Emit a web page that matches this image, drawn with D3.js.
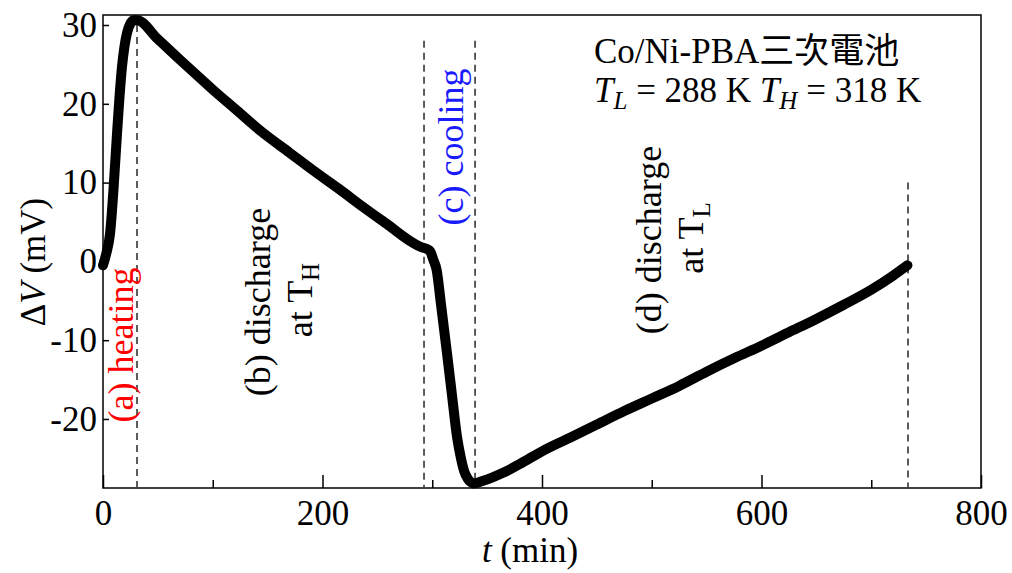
<!DOCTYPE html>
<html>
<head>
<meta charset="utf-8">
<script src="https://cdn.jsdelivr.net/npm/d3@7"></script>
<style>
  body { margin: 0; background: #fff; }
</style>
</head>
<body>
<svg id="chart" width="1012" height="573"></svg>
<script>
// time (min) and voltage difference (mV)
const timeMin = [0, 3, 6.4, 9.5, 12.8, 15, 17.3, 19.5, 21.9, 25, 28, 31,
  50, 70, 85, 100, 120, 145, 170, 191, 215, 237, 260, 282, 290, 295, 298,
  301, 304, 308, 313.4, 318, 322.6, 326, 329, 332, 335, 338,
  345, 355, 365, 380, 400, 425, 450, 475, 500, 525, 550, 575, 600, 625, 650, 675, 700, 720, 733];
const deltaV = [-0.5, 1, 3.5, 9, 16.3, 20.8, 24.7, 27.2, 29.0, 30.2, 30.6, 30.6,
  28.2, 25.6, 23.7, 21.8, 19.4, 16.4, 13.8, 11.6, 9.2, 6.9, 4.6, 2.4, 1.8, 1.6, 1.3,
  0.2, -1.1, -5.5, -11.6, -17, -22.3, -24.9, -26.6, -27.5, -28.0, -28.2,
  -27.9, -27.4, -26.8, -25.7, -24.1, -22.4, -20.7, -19.0, -17.4, -15.8, -14.0, -12.3, -10.7, -9.0, -7.3, -5.5, -3.6, -1.8, -0.5];

// stage boundaries (dashed lines): time and top value
const stageTimes = [31, 292.5, 339, 733.5];
const stageTops = [30, 28, 28, 10];

const xTicks = [0, 200, 400, 600, 800];
const xMinorTicks = [100, 300, 500, 700];
const yTicks = [-20, -10, 0, 10, 20, 30];

const FONT = '"Liberation Serif", "Noto Sans CJK TC", serif';
const size = { width: 1012, height: 573, left: 103, right: 981, top: 15, bottom: 488 };
const svg = d3.select('#chart');

const x = d3.scaleLinear().domain([0, 800]).range([size.left, size.right]);
const y = d3.scaleLinear().domain([-28.76, 31.27]).range([size.bottom, size.top]);

const fmt = d => d < 0 ? '-' + Math.abs(d) : String(d);

// axes with inward ticks
const xAxis = svg.append('g')
  .attr('transform', `translate(0,${size.bottom})`)
  .call(d3.axisBottom(x).tickValues(xTicks).tickSize(-13).tickPadding(12).tickFormat(fmt));
const xMinor = svg.append('g')
  .attr('transform', `translate(0,${size.bottom})`)
  .call(d3.axisBottom(x).tickValues(xMinorTicks).tickSize(-8).tickFormat(''));
const yAxis = svg.append('g')
  .attr('transform', `translate(${size.left},0)`)
  .call(d3.axisLeft(y).tickValues(yTicks).tickSize(-6).tickPadding(6).tickFormat(fmt));

[xAxis, xMinor, yAxis].forEach(g => {
  g.select('.domain').remove();
  g.selectAll('line').attr('stroke', '#000').attr('stroke-width', 1.5);
  g.selectAll('text').attr('font-size', 35).attr('fill', '#000')
    .style('font-family', FONT);
});

// frame
svg.append('rect')
  .attr('x', size.left).attr('y', size.top)
  .attr('width', size.right - size.left).attr('height', size.bottom - size.top)
  .attr('fill', 'none').attr('stroke', '#000').attr('stroke-width', 1.5);

// dashed stage boundaries
svg.selectAll('line.stage')
  .data(stageTimes.map((t, i) => ({ t, top: stageTops[i] })))
  .enter().append('line')
  .attr('class', 'stage')
  .attr('x1', d => x(d.t)).attr('x2', d => x(d.t))
  .attr('y1', d => y(d.top)).attr('y2', size.bottom - 1)
  .attr('stroke', '#333').attr('stroke-width', 1.6)
  .attr('stroke-dasharray', '7,5');

// the curve
const points = timeMin.map((t, i) => [t, deltaV[i]]);
const line = d3.line()
  .x(d => x(d[0]))
  .y(d => y(d[1]))
  .curve(d3.curveMonotoneX);

svg.append('path')
  .datum(points)
  .attr('d', line)
  .attr('fill', 'none')
  .attr('stroke', '#000')
  .attr('stroke-width', 10)
  .attr('stroke-linecap', 'round')
  .attr('stroke-linejoin', 'round');

// helper for text with serif font
function addText(sel) {
  return sel.append('text').style('font-family', FONT);
}

// axis titles
const yTitle = addText(svg)
  .attr('transform', 'translate(45,262) rotate(-90)')
  .attr('text-anchor', 'middle')
  .attr('font-size', 35);
yTitle.append('tspan').text('Δ');
yTitle.append('tspan').attr('font-style', 'italic').text('V');
yTitle.append('tspan').text(' (mV)');

const xTitle = addText(svg)
  .attr('x', 530).attr('y', 562)
  .attr('text-anchor', 'middle')
  .attr('font-size', 35);
xTitle.append('tspan').attr('font-style', 'italic').text('t');
xTitle.append('tspan').text(' (min)');

// stage annotations (rotated)
function vlabel(px, py, parts, color) {
  const t = addText(svg)
    .attr('transform', `translate(${px},${py}) rotate(-90)`)
    .attr('text-anchor', 'middle')
    .attr('font-size', 36)
    .attr('fill', color);
  parts.forEach(p => {
    const s = t.append('tspan').text(p.text);
    if (p.sub) s.attr('font-size', 25).attr('dy', 7);
  });
  return t;
}

vlabel(133, 345, [{ text: '(a) heating' }], '#ff0000');
vlabel(270, 302, [{ text: '(b) discharge' }], '#000');
vlabel(312, 300, [{ text: 'at T' }, { text: 'H', sub: true }], '#000');
vlabel(463, 147, [{ text: '(c) cooling' }], '#1a1aff');
vlabel(661, 240, [{ text: '(d) discharge' }], '#000');
vlabel(703, 238, [{ text: 'at T' }, { text: 'L', sub: true }], '#000');

// legend text top right
addText(svg)
  .attr('x', 594).attr('y', 63)
  .attr('font-size', 35)
  .text('Co/Ni-PBA三次電池');

const cond = addText(svg)
  .attr('x', 594).attr('y', 102)
  .attr('font-size', 35);
cond.append('tspan').attr('font-style', 'italic').text('T');
cond.append('tspan').attr('font-style', 'italic').attr('font-size', 25).attr('dy', 7).text('L');
cond.append('tspan').attr('dy', -7).text(' = 288 K ');
cond.append('tspan').attr('font-style', 'italic').text('T');
cond.append('tspan').attr('font-style', 'italic').attr('font-size', 25).attr('dy', 7).text('H');
cond.append('tspan').attr('dy', -7).text(' = 318 K');
</script>
</body>
</html>
